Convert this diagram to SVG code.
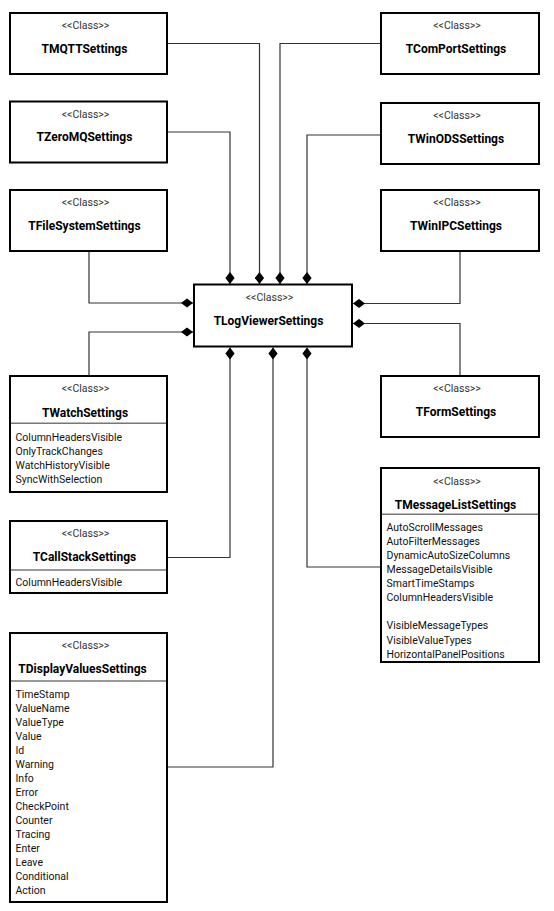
<svg xmlns="http://www.w3.org/2000/svg" width="554" height="911" viewBox="0 0 554 911">
<style>
.box{fill:#fff;stroke:#000;stroke-width:2}
.sep{stroke:#777;stroke-width:1.5}
.cls{font-family:Roboto,"Liberation Sans",sans-serif;font-size:10.5px;fill:#333;text-anchor:middle}
.ttl{font-family:Roboto,"Liberation Sans",sans-serif;font-size:12px;font-weight:bold;fill:#000;text-anchor:middle}
.att{font-family:Roboto,"Liberation Sans",sans-serif;font-size:10.5px;fill:#111}
.con{fill:none;stroke:#333;stroke-width:1.2;marker-end:url(#dia)}
</style>
<defs>
<marker id="dia" viewBox="0 -5 12 10" refX="12" refY="0" markerWidth="12" markerHeight="10" markerUnits="userSpaceOnUse" orient="auto"><path d="M0,0 L6,-4.6 L12,0 L6,4.6 Z" fill="#000"/></marker>
</defs>
<rect width="554" height="911" fill="#fff"/>
<g id="connectors">
<path class="con" d="M167,43.5 H259.5 V284"/>
<path class="con" d="M167,132 H230 V284"/>
<path class="con" d="M381,43.5 H280 V284"/>
<path class="con" d="M381,135 H307 V284"/>
<path class="con" d="M89,251 V303 H193"/>
<path class="con" d="M89,376 V332 H193"/>
<path class="con" d="M460,251 V303.5 H353"/>
<path class="con" d="M460,376 V323.5 H353"/>
<path class="con" d="M167,557.5 H230 V347.5"/>
<path class="con" d="M167,767 H273 V347.5"/>
<path class="con" d="M381,567 H307 V347.5"/>
</g>
<g id="TMQTTSettings">
<rect class="box" x="10" y="13" width="157" height="61"/>
<text class="cls" x="85.5" y="29">&lt;&lt;Class&gt;&gt;</text>
<text class="ttl" x="84.5" y="52.5">TMQTTSettings</text>
</g>
<g id="TZeroMQSettings">
<rect class="box" x="10" y="101.5" width="157" height="61"/>
<text class="cls" x="85.5" y="117.5">&lt;&lt;Class&gt;&gt;</text>
<text class="ttl" x="84.5" y="141">TZeroMQSettings</text>
</g>
<g id="TFileSystemSettings">
<rect class="box" x="10" y="190" width="157" height="61"/>
<text class="cls" x="85.5" y="206">&lt;&lt;Class&gt;&gt;</text>
<text class="ttl" x="84.5" y="230">TFileSystemSettings</text>
</g>
<g id="TComPortSettings">
<rect class="box" x="381" y="13" width="158" height="61"/>
<text class="cls" x="457" y="29">&lt;&lt;Class&gt;&gt;</text>
<text class="ttl" x="456" y="52.5">TComPortSettings</text>
</g>
<g id="TWinODSSettings">
<rect class="box" x="381" y="103" width="158" height="61"/>
<text class="cls" x="457" y="119">&lt;&lt;Class&gt;&gt;</text>
<text class="ttl" x="456" y="142.5">TWinODSSettings</text>
</g>
<g id="TWinIPCSettings">
<rect class="box" x="381" y="190" width="158" height="61"/>
<text class="cls" x="457" y="206">&lt;&lt;Class&gt;&gt;</text>
<text class="ttl" x="456" y="230">TWinIPCSettings</text>
</g>
<g id="TLogViewerSettings">
<rect class="box" x="194" y="284.5" width="158" height="62"/>
<text class="cls" x="269.5" y="301">&lt;&lt;Class&gt;&gt;</text>
<text class="ttl" x="268.5" y="325">TLogViewerSettings</text>
</g>
<g id="TWatchSettings">
<rect class="box" x="10" y="376" width="157" height="116"/>
<text class="cls" x="85.5" y="391.5">&lt;&lt;Class&gt;&gt;</text>
<text class="ttl" x="85" y="416.5">TWatchSettings</text>
<line class="sep" x1="11" y1="423.3" x2="166" y2="423.3"/>
<text class="att" x="15.5" y="441">ColumnHeadersVisible</text>
<text class="att" x="15.5" y="455">OnlyTrackChanges</text>
<text class="att" x="15.5" y="469">WatchHistoryVisible</text>
<text class="att" x="15.5" y="483">SyncWithSelection</text>
</g>
<g id="TCallStackSettings">
<rect class="box" x="10" y="521" width="157" height="72"/>
<text class="cls" x="85.5" y="536.5">&lt;&lt;Class&gt;&gt;</text>
<text class="ttl" x="84.5" y="561">TCallStackSettings</text>
<line class="sep" x1="11" y1="570" x2="166" y2="570"/>
<text class="att" x="15.5" y="586">ColumnHeadersVisible</text>
</g>
<g id="TFormSettings">
<rect class="box" x="381" y="376" width="158" height="61"/>
<text class="cls" x="457" y="392">&lt;&lt;Class&gt;&gt;</text>
<text class="ttl" x="456" y="416">TFormSettings</text>
</g>
<g id="TMessageListSettings">
<rect class="box" x="381" y="468" width="158" height="194"/>
<text class="cls" x="457" y="485">&lt;&lt;Class&gt;&gt;</text>
<text class="ttl" x="455.5" y="508.5">TMessageListSettings</text>
<line class="sep" x1="382" y1="514.3" x2="538" y2="514.3"/>
<text class="att" x="386.5" y="531">AutoScrollMessages</text>
<text class="att" x="386.5" y="545">AutoFilterMessages</text>
<text class="att" x="386.5" y="559">DynamicAutoSizeColumns</text>
<text class="att" x="386.5" y="573">MessageDetailsVisible</text>
<text class="att" x="386.5" y="587">SmartTimeStamps</text>
<text class="att" x="386.5" y="601">ColumnHeadersVisible</text>
<text class="att" x="386.5" y="629">VisibleMessageTypes</text>
<text class="att" x="386.5" y="643.5">VisibleValueTypes</text>
<text class="att" x="386.5" y="657.5">HorizontalPanelPositions</text>
</g>
<g id="TDisplayValuesSettings">
<rect class="box" x="10" y="633" width="157" height="269"/>
<text class="cls" x="85.5" y="649">&lt;&lt;Class&gt;&gt;</text>
<text class="ttl" x="82.5" y="672.5">TDisplayValuesSettings</text>
<line class="sep" x1="11" y1="681" x2="166" y2="681"/>
<text class="att" x="15.5" y="697.5">TimeStamp</text>
<text class="att" x="15.5" y="711.5">ValueName</text>
<text class="att" x="15.5" y="725.5">ValueType</text>
<text class="att" x="15.5" y="739.5">Value</text>
<text class="att" x="15.5" y="753.5">Id</text>
<text class="att" x="15.5" y="767.5">Warning</text>
<text class="att" x="15.5" y="781.5">Info</text>
<text class="att" x="15.5" y="795.5">Error</text>
<text class="att" x="15.5" y="809.5">CheckPoint</text>
<text class="att" x="15.5" y="823.5">Counter</text>
<text class="att" x="15.5" y="837.5">Tracing</text>
<text class="att" x="15.5" y="851.5">Enter</text>
<text class="att" x="15.5" y="865.5">Leave</text>
<text class="att" x="15.5" y="879.5">Conditional</text>
<text class="att" x="15.5" y="893.5">Action</text>
</g>
</svg>
